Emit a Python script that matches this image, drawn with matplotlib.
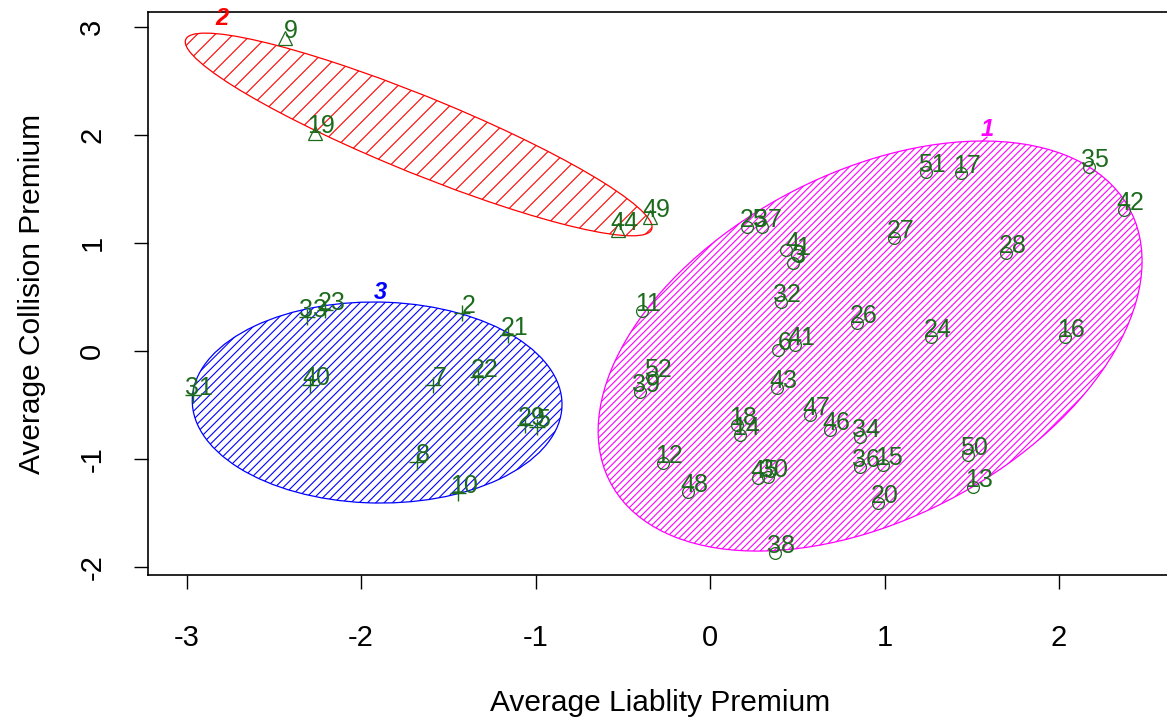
import numpy as np
import matplotlib
matplotlib.use("Agg")
import matplotlib.pyplot as plt
from matplotlib.patches import Ellipse
from matplotlib.collections import LineCollection

plt.rcParams['font.family'] = ['Liberation Sans', 'DejaVu Sans']

# ---------------- data ----------------
# cluster 1 (circles)
c1_ids = [1, 3, 4, 6, 11, 12, 13, 14, 15, 16, 17, 18, 20, 24, 25, 26, 27, 28, 30, 32,
          34, 35, 36, 37, 38, 39, 41, 42, 43, 45, 46, 47, 48, 50, 51, 52]
c1_x = [0.499, 0.476, 0.436, 0.390, -0.390, -0.269, 1.507, 0.172, 0.991, 2.034, 1.438, 0.155,
        0.963, 1.266, 0.212, 0.842, 1.054, 1.696, 0.332, 0.407, 0.860, 2.172, 0.860, 0.298,
        0.372, -0.401, 0.487, 2.372, 0.384, 0.275, 0.688, 0.573, -0.126, 1.479, 1.238, -0.332]
c1_y = [0.889, 0.815, 0.935, 0.009, 0.370, -1.037, -1.259, -0.778, -1.056, 0.130, 1.648, -0.685,
        -1.407, 0.130, 1.148, 0.259, 1.046, 0.907, -1.167, 0.454, -0.796, 1.704, -1.074, 1.148,
        -1.870, -0.380, 0.056, 1.306, -0.343, -1.176, -0.731, -0.593, -1.306, -0.963, 1.657, -0.241]

# cluster 2 (triangles)
c2_ids = [9, 19, 44, 49]
c2_x = [-2.436, -2.264, -0.527, -0.344]
c2_y = [2.898, 2.019, 1.120, 1.241]

# cluster 3 (plus)
c3_ids = [2, 5, 7, 8, 10, 21, 22, 23, 29, 31, 33, 40]
c3_x = [-1.421, -0.991, -1.587, -1.679, -1.444, -1.158, -1.330, -2.206, -1.060, -2.963, -2.309, -2.292]
c3_y = [0.352, -0.704, -0.315, -1.028, -1.315, 0.148, -0.241, 0.380, -0.685, -0.407, 0.315, -0.315]

# cluster ellipses: cluster 1, 2, 3
clusters = ['1', '2', '3']
ell_cx = [0.917, -1.670, -1.908]
ell_cy = [0.046, 2.005, -0.477]
ell_w = [4.184, 3.205, 2.120]
ell_h = [2.574, 0.638, 1.860]
ell_angle = [57.8, -34.2, -4.0]
ell_colors = ['#FF00FF', '#FF0000', '#0000FF']
hatch_spacing_px = [6.7, 18.0, 8.3]
lab_x = [1.587, -2.797, -1.891]
lab_y = [2.050, 3.083, 0.546]

x_ticks = [-3, -2, -1, 0, 1, 2]
y_ticks = [-2, -1, 0, 1, 2, 3]
x_label = 'Average Liablity Premium'
y_label = 'Average Collision Premium'

GREEN = '#1c6b1c'

# ---------------- figure ----------------
fig = plt.figure(figsize=(11.67, 7.17), dpi=100)
ax = fig.add_axes([148 / 1167, 1 - 575 / 717, (1172 - 148) / 1167, (575 - 12) / 717])
ax.set_xlim(-3.221, 2.647)
ax.set_ylim(-2.074, 3.139)

for sp in ax.spines.values():
    sp.set_linewidth(1.2)

ax.set_xticks(x_ticks)
ax.set_yticks(y_ticks)
ax.set_xticklabels([str(t) for t in x_ticks])
ax.set_yticklabels([str(t) for t in y_ticks], rotation=90, va='center')
ax.tick_params(axis='both', direction='out', length=10, width=1.0, labelsize=21)
ax.tick_params(axis='x', pad=25)
ax.tick_params(axis='y', pad=20)
ax.set_xlabel(x_label, fontsize=21.5, labelpad=27)
ax.set_ylabel(y_label, fontsize=21.5, labelpad=23)


def hatch(patch, spacing, color):
    verts = patch.get_transform().transform(patch.get_path().vertices)
    xmin, ymin = verts.min(axis=0)
    xmax, ymax = verts.max(axis=0)
    cs = np.arange(ymin - xmax, ymax - xmin + spacing, spacing)
    segs = []
    inv = ax.transData.inverted()
    for c in cs:
        p = np.array([[xmin, xmin + c], [xmax, xmax + c]])
        segs.append(inv.transform(p))
    lc = LineCollection(segs, colors=color, linewidths=0.8)
    ax.add_collection(lc)
    lc.set_clip_path(patch)


for i in range(3):
    e = Ellipse((ell_cx[i], ell_cy[i]), ell_w[i], ell_h[i], angle=ell_angle[i],
                fill=False, edgecolor=ell_colors[i], linewidth=0.9, zorder=2)
    ax.add_patch(e)
    hatch(e, hatch_spacing_px[i], ell_colors[i])
    ax.text(lab_x[i], lab_y[i], clusters[i], color=ell_colors[i], fontsize=17,
            fontweight='bold', fontstyle='italic', ha='center', va='center', zorder=5)
    if i == 0:
        t = np.linspace(0, 2 * np.pi, 2000)
        th = np.deg2rad(ell_angle[i])
        a, b = ell_w[i] / 2, ell_h[i] / 2
        ex = ell_cx[i] + a * np.cos(t) * np.cos(th) - b * np.sin(t) * np.sin(th)
        ey = ell_cy[i] + a * np.cos(t) * np.sin(th) + b * np.sin(t) * np.cos(th)
        k = np.argmax(ey)
        ax.plot([ex[k], lab_x[i]], [ey[k], lab_y[i] - 0.07], color=ell_colors[i], lw=0.9)

ax.plot(c1_x, c1_y, linestyle='none', marker='o', ms=8.5, mfc='none', mec=GREEN, mew=0.9, zorder=3)
ax.plot(c2_x, c2_y, linestyle='none', marker='^', ms=10, mfc='none', mec=GREEN, mew=0.9, zorder=3)
ax.plot(c3_x, c3_y, linestyle='none', marker='+', ms=12, mec=GREEN, mew=1.0, zorder=3)

for ids, xs, ys in [(c1_ids, c1_x, c1_y), (c2_ids, c2_x, c2_y), (c3_ids, c3_x, c3_y)]:
    for k, x, y in zip(ids, xs, ys):
        ax.annotate(str(k), (x, y), xytext=(4.5, 5.0), textcoords='offset points',
                    ha='center', va='center', color=GREEN, fontsize=18, zorder=4)

fig.savefig('out.png', dpi=100)
